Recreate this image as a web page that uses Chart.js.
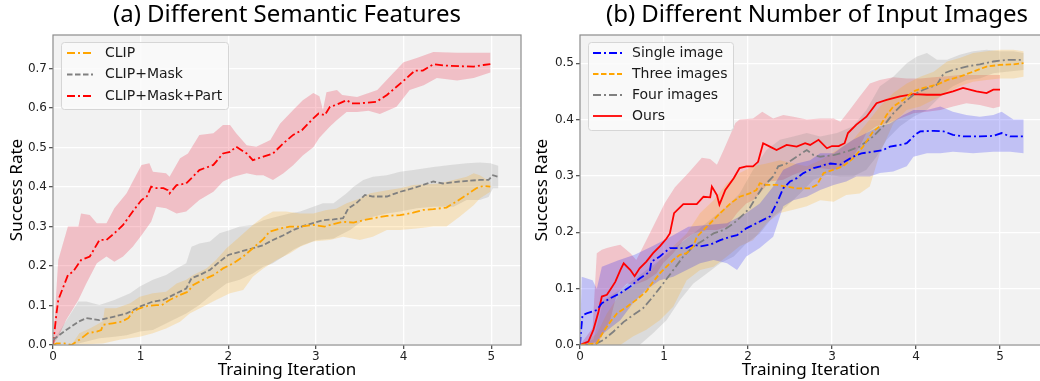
<!DOCTYPE html>
<html><head><meta charset="utf-8">
<script src="https://cdn.jsdelivr.net/npm/chart.js@4.4.0/dist/chart.umd.min.js"></script>
<style>
html,body{margin:0;padding:0;background:#fff;overflow:hidden;width:1040px;height:381px;}
#ca{position:absolute;left:0;top:0;}
#cb{position:absolute;left:520px;top:0;}
</style></head><body>
<canvas id="ca" width="530" height="381"></canvas>
<canvas id="cb" width="530" height="381"></canvas>
<script>
// ---------- (a) Different Semantic Features ----------
const aTitle = '(a) Different Semantic Features';
const aLabels = ['CLIP', 'CLIP+Mask', 'CLIP+Mask+Part'];
const aYTicks = [0, 0.1, 0.2, 0.3, 0.4, 0.5, 0.6, 0.7];
const xTicks = [0, 1, 2, 3, 4, 5];

const clipLine = [[0,0],[0.04,0.004],[0.13,0.004],[0.21,0],[0.30,0.013],[0.40,0.03],[0.50,0.034],[0.55,0.038],[0.57,0.051],[0.68,0.055],[0.78,0.059],[0.86,0.068],[0.91,0.084],[0.99,0.093],[1.08,0.099],[1.18,0.101],[1.24,0.101],[1.33,0.114],[1.45,0.127],[1.54,0.135],[1.60,0.152],[1.71,0.165],[1.83,0.177],[1.94,0.194],[2.06,0.207],[2.17,0.224],[2.28,0.245],[2.40,0.268],[2.47,0.287],[2.59,0.295],[2.70,0.30],[2.82,0.30],[2.97,0.304],[3.10,0.30],[3.20,0.306],[3.31,0.312],[3.43,0.31],[3.54,0.316],[3.65,0.321],[3.81,0.327],[3.96,0.329],[4.11,0.335],[4.22,0.342],[4.34,0.344],[4.49,0.348],[4.60,0.363],[4.72,0.38],[4.83,0.397],[4.91,0.403],[4.99,0.401]];
const clipHi = [[0.21,0],[0.30,0.03],[0.42,0.042],[0.57,0.06],[0.59,0.093],[0.72,0.093],[0.88,0.106],[0.99,0.122],[1.14,0.131],[1.29,0.135],[1.41,0.156],[1.52,0.165],[1.60,0.177],[1.75,0.194],[1.86,0.215],[1.98,0.245],[2.13,0.274],[2.28,0.304],[2.40,0.325],[2.51,0.338],[2.66,0.338],[2.82,0.333],[2.97,0.333],[3.12,0.342],[3.23,0.345],[3.35,0.359],[3.50,0.371],[3.62,0.384],[3.81,0.392],[3.96,0.397],[4.11,0.405],[4.26,0.407],[4.41,0.409],[4.57,0.418],[4.72,0.426],[4.80,0.435],[4.87,0.43],[4.99,0.413]];
const clipLo = [[0.21,0],[0.57,0.004],[0.76,0.013],[0.99,0.021],[1.14,0.03],[1.29,0.042],[1.45,0.059],[1.56,0.08],[1.71,0.097],[1.86,0.114],[2.02,0.131],[2.17,0.139],[2.28,0.173],[2.40,0.194],[2.55,0.215],[2.70,0.232],[2.82,0.249],[2.97,0.262],[3.16,0.266],[3.31,0.274],[3.50,0.266],[3.65,0.274],[3.81,0.291],[3.96,0.291],[4.15,0.295],[4.34,0.30],[4.49,0.30],[4.64,0.325],[4.80,0.354],[4.87,0.371],[4.99,0.388]];

const maskLine = [[0,0.013],[0.15,0.038],[0.29,0.059],[0.38,0.068],[0.53,0.063],[0.70,0.072],[0.84,0.08],[0.99,0.097],[1.14,0.11],[1.26,0.114],[1.41,0.131],[1.52,0.143],[1.58,0.169],[1.67,0.177],[1.79,0.19],[1.90,0.211],[2.0,0.228],[2.13,0.236],[2.28,0.245],[2.40,0.253],[2.51,0.266],[2.63,0.278],[2.74,0.291],[2.85,0.301],[2.99,0.31],[3.08,0.316],[3.20,0.318],[3.31,0.321],[3.37,0.346],[3.46,0.359],[3.56,0.38],[3.65,0.376],[3.81,0.376],[3.96,0.388],[4.11,0.397],[4.22,0.405],[4.34,0.414],[4.45,0.409],[4.64,0.414],[4.87,0.418],[4.97,0.418],[5.02,0.43],[5.08,0.426]];
const maskHi = [[0,0.013],[0.06,0.03],[0.29,0.11],[0.38,0.11],[0.53,0.101],[0.70,0.114],[0.88,0.131],[0.99,0.148],[1.14,0.165],[1.29,0.177],[1.41,0.194],[1.52,0.207],[1.58,0.249],[1.67,0.257],[1.79,0.262],[1.90,0.283],[2.02,0.291],[2.13,0.30],[2.28,0.304],[2.40,0.316],[2.55,0.325],[2.70,0.333],[2.82,0.338],[2.97,0.35],[3.08,0.359],[3.20,0.359],[3.35,0.384],[3.43,0.401],[3.54,0.418],[3.65,0.426],[3.81,0.43],[3.96,0.439],[4.11,0.443],[4.34,0.451],[4.53,0.456],[4.72,0.46],[4.87,0.462],[4.99,0.46],[5.08,0.454]];
const maskLo = [[0,0],[0.29,0.004],[0.53,0.017],[0.70,0.021],[0.84,0.025],[0.99,0.034],[1.14,0.038],[1.37,0.063],[1.52,0.08],[1.67,0.101],[1.83,0.131],[1.98,0.156],[2.13,0.165],[2.28,0.181],[2.40,0.198],[2.51,0.207],[2.63,0.224],[2.74,0.241],[2.85,0.253],[3.01,0.266],[3.20,0.27],[3.39,0.291],[3.54,0.316],[3.65,0.325],[3.81,0.333],[3.96,0.338],[4.15,0.346],[4.34,0.35],[4.57,0.35],[4.72,0.367],[4.87,0.367],[4.97,0.375],[5.02,0.397],[5.08,0.397]];

const partLine = [[0,0],[0.04,0.08],[0.06,0.114],[0.17,0.177],[0.23,0.186],[0.32,0.215],[0.42,0.224],[0.53,0.266],[0.61,0.266],[0.70,0.283],[0.80,0.304],[0.91,0.338],[1.01,0.367],[1.07,0.376],[1.12,0.401],[1.18,0.397],[1.26,0.397],[1.31,0.392],[1.33,0.384],[1.41,0.405],[1.52,0.409],[1.67,0.443],[1.83,0.456],[1.94,0.485],[2.02,0.489],[2.09,0.502],[2.21,0.485],[2.28,0.468],[2.40,0.477],[2.51,0.485],[2.63,0.511],[2.74,0.532],[2.84,0.544],[2.97,0.574],[3.03,0.586],[3.10,0.582],[3.16,0.603],[3.23,0.608],[3.35,0.62],[3.41,0.612],[3.50,0.612],[3.69,0.616],[3.81,0.633],[3.92,0.654],[4.01,0.671],[4.13,0.695],[4.22,0.695],[4.34,0.711],[4.45,0.708],[4.64,0.706],[4.80,0.705],[4.91,0.709],[4.99,0.711]];
const partHi = [[0,0],[0.06,0.215],[0.17,0.30],[0.29,0.30],[0.32,0.333],[0.42,0.329],[0.50,0.308],[0.61,0.308],[0.70,0.346],[0.84,0.384],[0.91,0.414],[1.01,0.456],[1.10,0.46],[1.14,0.439],[1.29,0.435],[1.33,0.426],[1.45,0.473],[1.54,0.485],[1.67,0.532],[1.83,0.536],[1.94,0.557],[2.02,0.557],[2.09,0.536],[2.21,0.506],[2.32,0.502],[2.48,0.519],[2.59,0.56],[2.74,0.595],[2.85,0.62],[2.97,0.638],[3.04,0.63],[3.08,0.595],[3.12,0.64],[3.24,0.646],[3.30,0.633],[3.47,0.628],[3.70,0.646],[3.88,0.688],[4.0,0.716],[4.15,0.727],[4.34,0.742],[4.61,0.74],[4.99,0.74]];
const partLo = [[0,0],[0.06,0.02],[0.15,0.063],[0.29,0.114],[0.38,0.156],[0.50,0.207],[0.61,0.224],[0.70,0.211],[0.80,0.224],[0.91,0.249],[1.01,0.278],[1.12,0.312],[1.18,0.35],[1.29,0.346],[1.41,0.333],[1.52,0.338],[1.67,0.367],[1.83,0.388],[1.94,0.414],[2.06,0.426],[2.21,0.435],[2.32,0.43],[2.40,0.43],[2.51,0.418],[2.63,0.435],[2.74,0.455],[2.85,0.48],[2.97,0.501],[3.04,0.525],[3.16,0.553],[3.24,0.57],[3.35,0.59],[3.47,0.59],[3.60,0.593],[3.73,0.585],[3.92,0.603],[4.07,0.646],[4.23,0.658],[4.38,0.676],[4.61,0.67],[4.80,0.676],[4.99,0.69]];

// ---------- (b) Different Number of Input Images ----------
const bTitle = '(b) Different Number of Input Images';
const bLabels = ['Single image', 'Three images', 'Four images', 'Ours'];
const bYTicks = [0, 0.1, 0.2, 0.3, 0.4, 0.5];

const singleLine = [[0,0],[0.01,0.021],[0.03,0.053],[0.08,0.056],[0.2,0.062],[0.26,0.074],[0.36,0.083],[0.48,0.092],[0.6,0.104],[0.71,0.118],[0.83,0.13],[0.85,0.148],[0.95,0.157],[1.07,0.172],[1.19,0.172],[1.27,0.172],[1.35,0.178],[1.43,0.175],[1.55,0.178],[1.67,0.186],[1.79,0.192],[1.87,0.195],[1.98,0.207],[2.06,0.213],[2.18,0.222],[2.26,0.228],[2.34,0.251],[2.42,0.278],[2.5,0.29],[2.58,0.296],[2.66,0.305],[2.78,0.314],[2.86,0.317],[2.92,0.32],[2.98,0.322],[3.1,0.32],[3.15,0.325],[3.25,0.334],[3.35,0.34],[3.49,0.343],[3.61,0.346],[3.69,0.352],[3.81,0.355],[3.89,0.358],[3.99,0.373],[4.05,0.379],[4.21,0.38],[4.33,0.379],[4.44,0.373],[4.56,0.37],[4.76,0.37],[4.92,0.371],[5.02,0.376],[5.12,0.37],[5.28,0.37]];
const singleHi = [[0,0],[0.02,0.121],[0.15,0.115],[0.2,0.1],[0.26,0.139],[0.45,0.15],[0.65,0.16],[0.86,0.175],[1.05,0.19],[1.29,0.21],[1.51,0.213],[1.75,0.216],[1.98,0.234],[2.14,0.251],[2.3,0.281],[2.42,0.311],[2.58,0.322],[2.74,0.328],[2.86,0.34],[3.02,0.34],[3.13,0.352],[3.25,0.364],[3.41,0.376],[3.57,0.388],[3.69,0.393],[3.85,0.408],[3.97,0.417],[4.13,0.417],[4.29,0.423],[4.44,0.414],[4.6,0.408],[4.76,0.405],[4.92,0.408],[5.02,0.414],[5.16,0.4],[5.28,0.4]];
const singleLo = [[0,0],[0.2,0.005],[0.28,0.021],[0.48,0.044],[0.63,0.074],[0.79,0.098],[0.95,0.115],[1.11,0.121],[1.27,0.133],[1.43,0.145],[1.59,0.151],[1.75,0.145],[1.87,0.133],[1.98,0.157],[2.14,0.172],[2.3,0.192],[2.42,0.246],[2.54,0.257],[2.7,0.263],[2.86,0.275],[3.02,0.284],[3.17,0.29],[3.29,0.299],[3.45,0.299],[3.57,0.305],[3.73,0.308],[3.89,0.317],[3.97,0.334],[4.13,0.34],[4.29,0.34],[4.44,0.343],[4.68,0.34],[4.92,0.343],[5.12,0.343],[5.28,0.34]];

const threeLine = [[0,0],[0.2,0.003],[0.28,0.024],[0.36,0.041],[0.44,0.056],[0.56,0.068],[0.67,0.08],[0.79,0.095],[0.87,0.112],[0.95,0.127],[1.03,0.139],[1.11,0.151],[1.19,0.16],[1.27,0.163],[1.35,0.175],[1.39,0.192],[1.47,0.204],[1.55,0.216],[1.67,0.234],[1.79,0.251],[1.9,0.263],[2.02,0.269],[2.1,0.275],[2.14,0.287],[2.22,0.284],[2.34,0.284],[2.46,0.281],[2.58,0.278],[2.74,0.278],[2.82,0.284],[2.9,0.305],[3.02,0.311],[3.13,0.317],[3.25,0.331],[3.37,0.352],[3.49,0.379],[3.57,0.388],[3.65,0.408],[3.73,0.423],[3.85,0.435],[3.97,0.45],[4.09,0.456],[4.25,0.462],[4.37,0.47],[4.52,0.476],[4.68,0.485],[4.84,0.494],[5.0,0.497],[5.16,0.498],[5.28,0.5]];
const threeHi = [[0,0],[0.2,0.02],[0.32,0.056],[0.48,0.092],[0.63,0.104],[0.79,0.121],[0.95,0.151],[1.11,0.175],[1.27,0.198],[1.43,0.234],[1.59,0.257],[1.75,0.287],[1.9,0.305],[2.06,0.317],[2.22,0.322],[2.38,0.328],[2.54,0.322],[2.7,0.317],[2.86,0.328],[3.06,0.346],[3.25,0.364],[3.41,0.393],[3.57,0.423],[3.73,0.447],[3.89,0.464],[4.05,0.476],[4.21,0.485],[4.37,0.503],[4.52,0.509],[4.68,0.518],[4.84,0.521],[5.0,0.524],[5.16,0.524],[5.28,0.521]];
const threeLo = [[0,0],[0.48,0],[0.63,0.015],[0.79,0.027],[0.95,0.044],[1.11,0.068],[1.27,0.115],[1.43,0.133],[1.59,0.139],[1.75,0.157],[1.9,0.175],[2.06,0.186],[2.22,0.216],[2.38,0.234],[2.54,0.24],[2.7,0.246],[2.86,0.257],[3.02,0.254],[3.17,0.266],[3.33,0.269],[3.45,0.281],[3.57,0.34],[3.73,0.393],[3.89,0.417],[4.05,0.423],[4.21,0.435],[4.37,0.447],[4.52,0.459],[4.68,0.467],[4.84,0.47],[5.0,0.473],[5.16,0.473],[5.28,0.476]];

const fourLine = [[0,0],[0.16,0],[0.28,0.009],[0.4,0.024],[0.52,0.041],[0.63,0.053],[0.75,0.065],[0.87,0.086],[0.99,0.109],[1.11,0.133],[1.23,0.157],[1.35,0.175],[1.47,0.186],[1.59,0.198],[1.71,0.204],[1.83,0.216],[1.94,0.231],[2.02,0.243],[2.1,0.263],[2.18,0.281],[2.3,0.299],[2.36,0.317],[2.46,0.322],[2.58,0.334],[2.7,0.346],[2.78,0.337],[2.86,0.334],[3.02,0.337],[3.17,0.343],[3.33,0.352],[3.49,0.37],[3.61,0.388],[3.73,0.411],[3.85,0.429],[3.97,0.444],[4.09,0.453],[4.25,0.462],[4.33,0.482],[4.44,0.488],[4.6,0.494],[4.76,0.498],[4.92,0.503],[5.08,0.506],[5.28,0.506]];
const fourHi = [[0,0],[0.16,0.01],[0.28,0.08],[0.48,0.098],[0.63,0.115],[0.79,0.133],[0.95,0.151],[1.15,0.175],[1.35,0.198],[1.55,0.222],[1.75,0.246],[1.9,0.269],[2.06,0.311],[2.22,0.346],[2.38,0.364],[2.54,0.37],[2.7,0.376],[2.86,0.37],[3.06,0.376],[3.25,0.388],[3.41,0.417],[3.57,0.459],[3.73,0.476],[3.89,0.5],[4.01,0.512],[4.13,0.518],[4.25,0.506],[4.37,0.506],[4.52,0.515],[4.68,0.521],[4.84,0.524],[5.0,0.521],[5.16,0.521],[5.28,0.518]];
const fourLo = [[0,0],[0.71,0],[0.87,0.021],[1.03,0.044],[1.19,0.08],[1.35,0.109],[1.51,0.127],[1.67,0.145],[1.83,0.157],[1.98,0.18],[2.14,0.198],[2.3,0.228],[2.46,0.246],[2.62,0.269],[2.78,0.293],[2.94,0.302],[3.1,0.299],[3.25,0.299],[3.41,0.311],[3.53,0.334],[3.65,0.364],[3.81,0.388],[3.97,0.405],[4.13,0.417],[4.29,0.441],[4.44,0.459],[4.6,0.47],[4.76,0.473],[4.92,0.482],[5.08,0.485],[5.28,0.488]];

const oursLine = [[0,0],[0.1,0.006],[0.16,0.027],[0.22,0.059],[0.26,0.086],[0.32,0.089],[0.36,0.098],[0.42,0.112],[0.48,0.133],[0.52,0.145],[0.6,0.133],[0.65,0.122],[0.71,0.136],[0.79,0.148],[0.87,0.163],[0.95,0.175],[1.03,0.189],[1.07,0.198],[1.12,0.234],[1.23,0.25],[1.39,0.25],[1.47,0.263],[1.55,0.262],[1.57,0.281],[1.63,0.266],[1.66,0.249],[1.73,0.275],[1.83,0.296],[1.9,0.314],[1.98,0.317],[2.06,0.317],[2.12,0.325],[2.18,0.358],[2.26,0.352],[2.34,0.346],[2.46,0.355],[2.58,0.352],[2.68,0.358],[2.74,0.355],[2.84,0.364],[2.94,0.349],[3.0,0.353],[3.08,0.353],[3.15,0.358],[3.19,0.376],[3.29,0.391],[3.41,0.405],[3.53,0.429],[3.65,0.435],[3.81,0.441],[3.97,0.445],[4.13,0.444],[4.29,0.444],[4.44,0.45],[4.56,0.456],[4.72,0.45],[4.84,0.447],[4.92,0.453],[5.0,0.453]];
const oursHi = [[0,0],[0.15,0.03],[0.2,0.163],[0.26,0.169],[0.32,0.172],[0.4,0.175],[0.48,0.178],[0.6,0.163],[0.67,0.151],[0.79,0.186],[0.87,0.21],[1.01,0.252],[1.13,0.28],[1.29,0.305],[1.45,0.332],[1.55,0.33],[1.63,0.32],[1.71,0.346],[1.85,0.394],[1.9,0.4],[2.06,0.402],[2.17,0.414],[2.3,0.402],[2.42,0.408],[2.54,0.405],[2.7,0.4],[2.86,0.402],[3.02,0.402],[3.1,0.396],[3.21,0.417],[3.33,0.441],[3.45,0.464],[3.57,0.47],[3.73,0.475],[3.89,0.473],[4.05,0.473],[4.21,0.475],[4.37,0.477],[4.52,0.479],[5.0,0.479]];
const oursLo = [[0,0],[0.2,0],[0.28,0.021],[0.36,0.045],[0.44,0.092],[0.56,0.109],[0.65,0.107],[0.79,0.115],[0.91,0.127],[0.99,0.145],[1.11,0.163],[1.23,0.186],[1.35,0.198],[1.51,0.204],[1.63,0.204],[1.75,0.21],[1.87,0.234],[1.98,0.251],[2.06,0.257],[2.14,0.269],[2.26,0.29],[2.42,0.293],[2.54,0.302],[2.7,0.311],[2.86,0.314],[3.02,0.311],[3.13,0.317],[3.25,0.334],[3.33,0.352],[3.41,0.376],[3.53,0.388],[3.65,0.393],[3.81,0.402],[3.97,0.411],[4.13,0.414],[4.29,0.417],[4.44,0.423],[4.6,0.429],[4.76,0.426],[4.92,0.42],[5.0,0.423]];

// ---------- helpers ----------
const pts = a => a.map(([x, y]) => ({x, y}));
const band = (hi, lo) => pts(hi.concat(lo.slice().reverse()));
const DASHDOT = [8, 3, 2, 3];
const DASH = [5.5, 2.5];

function lineDs(label, data, color, dash) {
  return {type: 'line', label, data: pts(data), borderColor: color, backgroundColor: color,
    borderWidth: 1.8, borderDash: dash, pointRadius: 0, tension: 0, fill: false, isLine: true};
}
function bandDs(hi, lo, fillColor) {
  return {type: 'line', label: '', data: band(hi, lo), borderWidth: 0, borderColor: 'rgba(0,0,0,0)',
    backgroundColor: fillColor, pointRadius: 0, tension: 0, fill: 'shape', isLine: false};
}

const bgPlugin = {
  id: 'bgPlugin',
  beforeDraw(chart) {
    const {ctx, chartArea: a} = chart;
    ctx.save(); ctx.fillStyle = '#f2f2f2';
    ctx.fillRect(a.left, a.top, a.right - a.left, a.bottom - a.top); ctx.restore();
  },
  afterDraw(chart) {
    const {ctx, chartArea: a} = chart;
    ctx.save(); ctx.strokeStyle = '#8c8c8c'; ctx.lineWidth = 1.2;
    ctx.strokeRect(a.left, a.top, a.right - a.left, a.bottom - a.top); ctx.restore();
    // title
    const t = chart.options.plugins.figTitle;
    ctx.save(); ctx.fillStyle = '#000'; ctx.font = t.font; ctx.textAlign = 'center'; ctx.textBaseline = 'middle';
    ctx.fillText(t.text, (a.left + a.right) / 2 + (t.dx || 0), t.y); ctx.restore();
    // legend
    const L = chart.options.plugins.boxLegend;
    ctx.save();
    ctx.fillStyle = 'rgba(250,250,250,0.85)'; ctx.strokeStyle = '#d6d6d6'; ctx.lineWidth = 1;
    ctx.beginPath(); ctx.roundRect(L.x + 0.5, L.y + 0.5, L.w, L.h, 3); ctx.fill(); ctx.stroke();
    const items = chart.data.datasets.filter(d => d.isLine);
    items.forEach((d, i) => {
      const y = L.row0 + i * L.gap;
      ctx.strokeStyle = d.borderColor; ctx.lineWidth = d.borderWidth; ctx.setLineDash(d.borderDash || []);
      ctx.beginPath(); ctx.moveTo(L.s0, y); ctx.lineTo(L.s1, y); ctx.stroke();
      ctx.setLineDash([]);
      ctx.fillStyle = '#1a1a1a'; ctx.font = '14px "DejaVu Sans"'; ctx.textBaseline = 'middle'; ctx.textAlign = 'left';
      ctx.fillText(d.label, L.tx, y);
    });
    ctx.restore();
  }
};

function makeOptions(xMax, yMax, yTickVals, yTitlePad, title, legend) {
  const tickFont = {family: 'DejaVu Sans', size: 12};
  return {
    responsive: false, animation: false, events: [],
    layout: {padding: {left: 0, right: 0, top: 35, bottom: 0}},
    plugins: {legend: {display: false}, tooltip: {enabled: false},
      filler: {drawTime: 'beforeDatasetsDraw'}, figTitle: title, boxLegend: legend},
    scales: {
      x: {type: 'linear', min: 0, max: xMax,
        afterBuildTicks: s => { s.ticks = xTicks.map(v => ({value: v})); },
        afterFit: s => { s.height = 36; },
        ticks: {font: tickFont, color: '#222', padding: 1, callback: v => String(v), maxRotation: 0, autoSkip: false},
        grid: {color: '#ffffff', lineWidth: 1.3, tickLength: 4, tickColor: '#555', drawTicks: true},
        border: {display: false},
        title: {display: true, text: 'Training Iteration', color: '#000',
          font: {family: 'Noto Sans', size: 17}, padding: {top: 0, bottom: 1}}
      },
      y: {type: 'linear', min: 0, max: yMax,
        afterBuildTicks: s => { s.ticks = yTickVals.map(v => ({value: v})); },
        ticks: {font: tickFont, color: '#222', padding: 2, callback: v => Number(v).toFixed(1), autoSkip: false},
        grid: {color: '#ffffff', lineWidth: 1.3, tickLength: 4, tickColor: '#555', drawTicks: true},
        border: {display: false},
        title: {display: true, text: 'Success Rate', color: '#000',
          font: {family: 'Noto Sans', size: 17}, padding: {top: yTitlePad, bottom: 0}}
      }
    }
  };
}

// chart (a)
const optA = makeOptions(5.34, 0.785, aYTicks, 7,
  {text: aTitle, font: '24px "Noto Sans"', y: 15},
  {x: 61, y: 42, w: 167, h: 67, row0: 53, gap: 21.5, s0: 67, s1: 93, tx: 105});
optA.layout.padding.right = 9;
optA.scales.y.afterFit = s => { s.width = 53; };
new Chart(document.getElementById('ca'), {
  type: 'line',
  data: {datasets: [
    lineDs(aLabels[0], clipLine, '#FFA500', DASHDOT),
    lineDs(aLabels[1], maskLine, '#808080', DASH),
    lineDs(aLabels[2], partLine, '#FF0000', DASHDOT),
    bandDs(clipHi, clipLo, 'rgba(255,165,0,0.2)'),
    bandDs(maskHi, maskLo, 'rgba(128,128,128,0.2)'),
    bandDs(partHi, partLo, 'rgba(235,30,60,0.24)')
  ]},
  options: optA,
  plugins: [bgPlugin]
});

// chart (b)
const optB = makeOptions(5.5, 0.55, bYTicks, 12,
  {text: bTitle, font: '24px "Noto Sans"', y: 15, dx: 6},
  {x: 68, y: 42, w: 145, h: 88, row0: 53, gap: 21, s0: 73, s1: 102, tx: 112});
optB.layout.padding.right = 8;
optB.scales.y.afterFit = s => { s.width = 60; };
new Chart(document.getElementById('cb'), {
  type: 'line',
  data: {datasets: [
    lineDs(bLabels[0], singleLine, '#0000FF', DASHDOT),
    lineDs(bLabels[1], threeLine, '#FFA500', DASH),
    lineDs(bLabels[2], fourLine, '#808080', DASHDOT),
    lineDs(bLabels[3], oursLine, '#FF0000', []),
    bandDs(singleHi, singleLo, 'rgba(0,0,255,0.2)'),
    bandDs(threeHi, threeLo, 'rgba(255,165,0,0.2)'),
    bandDs(fourHi, fourLo, 'rgba(128,128,128,0.2)'),
    bandDs(oursHi, oursLo, 'rgba(235,30,60,0.22)')
  ]},
  options: optB,
  plugins: [bgPlugin]
});
</script>
</body></html>
